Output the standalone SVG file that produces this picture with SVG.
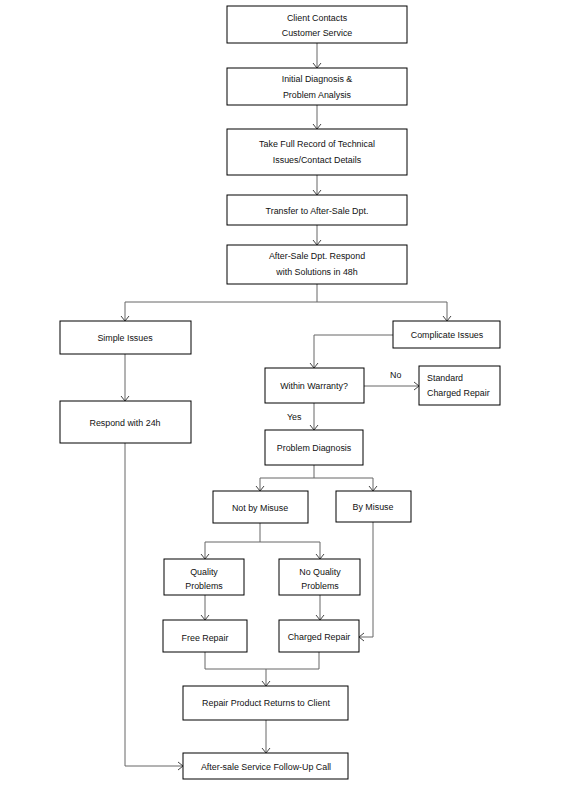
<svg xmlns="http://www.w3.org/2000/svg" width="568" height="787" viewBox="0 0 568 787">
<style>
.box{fill:#fff;stroke:#000;stroke-width:1}
.t{font-family:"Liberation Sans",Arial,sans-serif;font-size:8.9px;fill:#111;text-anchor:middle}
.tl{font-family:"Liberation Sans",Arial,sans-serif;font-size:8.9px;fill:#111}
.c{fill:none;stroke:#666;stroke-width:1}
</style>
<defs>
<marker id="a" markerWidth="10" markerHeight="10" refX="9" refY="5" orient="auto" markerUnits="userSpaceOnUse">
<path d="M4,1 L9,5 L4,9" fill="none" stroke="#444" stroke-width="1"/>
</marker>
</defs>
<rect width="568" height="787" fill="#fff"/>
<g id="connectors">
<path class="c" d="M317,43 V68" marker-end="url(#a)"/>
<path class="c" d="M317,105 V129" marker-end="url(#a)"/>
<path class="c" d="M317,175 V195" marker-end="url(#a)"/>
<path class="c" d="M317,225 V245" marker-end="url(#a)"/>
<path class="c" d="M317,284 V302"/>
<path class="c" d="M125,302 H447"/>
<path class="c" d="M125,302 V321" marker-end="url(#a)"/>
<path class="c" d="M447,302 V321" marker-end="url(#a)"/>
<path class="c" d="M125,354 V401" marker-end="url(#a)"/>
<path class="c" d="M393,335 H314 V368" marker-end="url(#a)"/>
<path class="c" d="M364,386 H419" marker-end="url(#a)"/>
<path class="c" d="M314,403 V430" marker-end="url(#a)"/>
<path class="c" d="M314,465 V478"/>
<path class="c" d="M260,478 H373"/>
<path class="c" d="M260,478 V491" marker-end="url(#a)"/>
<path class="c" d="M373,478 V491" marker-end="url(#a)"/>
<path class="c" d="M260,523 V542"/>
<path class="c" d="M205,542 H320"/>
<path class="c" d="M205,542 V559" marker-end="url(#a)"/>
<path class="c" d="M320,542 V559" marker-end="url(#a)"/>
<path class="c" d="M205,595 V620" marker-end="url(#a)"/>
<path class="c" d="M320,595 V620" marker-end="url(#a)"/>
<path class="c" d="M373,522 V637 H359" marker-end="url(#a)"/>
<path class="c" d="M205,652 V669 H319 V652"/>
<path class="c" d="M266,669 V686" marker-end="url(#a)"/>
<path class="c" d="M266,720 V753" marker-end="url(#a)"/>
<path class="c" d="M125,443 V766 H183" marker-end="url(#a)"/>
<text class="tl" x="390" y="378">No</text>
<text class="tl" x="287" y="420">Yes</text>
</g>
<g id="n1"><rect class="box" x="227" y="6" width="180" height="37"/><text class="t" x="317" y="21">Client Contacts</text><text class="t" x="317" y="36">Customer Service</text></g>
<g id="n2"><rect class="box" x="227" y="68" width="180" height="37"/><text class="t" x="317" y="82">Initial Diagnosis &amp;</text><text class="t" x="317" y="98">Problem Analysis</text></g>
<g id="n3"><rect class="box" x="227" y="129" width="180" height="46"/><text class="t" x="317" y="147">Take Full Record of Technical</text><text class="t" x="317" y="163">Issues/Contact Details</text></g>
<g id="n4"><rect class="box" x="227" y="195" width="180" height="30"/><text class="t" x="317" y="214">Transfer to After-Sale Dpt.</text></g>
<g id="n5"><rect class="box" x="227" y="245" width="180" height="39"/><text class="t" x="317" y="259">After-Sale Dpt. Respond</text><text class="t" x="317" y="275">with Solutions in 48h</text></g>
<g id="n6"><rect class="box" x="60" y="321" width="131" height="33"/><text class="t" x="125" y="341">Simple Issues</text></g>
<g id="n7"><rect class="box" x="393" y="321" width="107" height="27"/><text class="t" x="447" y="338">Complicate Issues</text></g>
<g id="n8"><rect class="box" x="60" y="401" width="131" height="42"/><text class="t" x="125" y="426">Respond with 24h</text></g>
<g id="n9"><rect class="box" x="265" y="368" width="99" height="35"/><text class="t" x="314" y="389">Within Warranty?</text></g>
<g id="n10"><rect class="box" x="419" y="366" width="81" height="39"/><text class="tl" x="427" y="381">Standard</text><text class="tl" x="427" y="396">Charged Repair</text></g>
<g id="n11"><rect class="box" x="265" y="430" width="98" height="35"/><text class="t" x="314" y="451">Problem Diagnosis</text></g>
<g id="n12"><rect class="box" x="213" y="491" width="95" height="32"/><text class="t" x="260" y="511">Not by Misuse</text></g>
<g id="n13"><rect class="box" x="336" y="491" width="75" height="31"/><text class="t" x="373" y="510">By Misuse</text></g>
<g id="n14"><rect class="box" x="164" y="559" width="80" height="36"/><text class="t" x="204" y="575">Quality</text><text class="t" x="204" y="589">Problems</text></g>
<g id="n15"><rect class="box" x="279" y="559" width="81" height="36"/><text class="t" x="320" y="575">No Quality</text><text class="t" x="320" y="589">Problems</text></g>
<g id="n16"><rect class="box" x="163" y="620" width="84" height="32"/><text class="t" x="205" y="641">Free Repair</text></g>
<g id="n17"><rect class="box" x="279" y="620" width="80" height="32"/><text class="t" x="319" y="640">Charged Repair</text></g>
<g id="n18"><rect class="box" x="183" y="686" width="165" height="34"/><text class="t" x="266" y="706">Repair Product Returns to Client</text></g>
<g id="n19"><rect class="box" x="183" y="753" width="165" height="26"/><text class="t" x="266" y="770">After-sale Service Follow-Up Call</text></g>
</svg>
